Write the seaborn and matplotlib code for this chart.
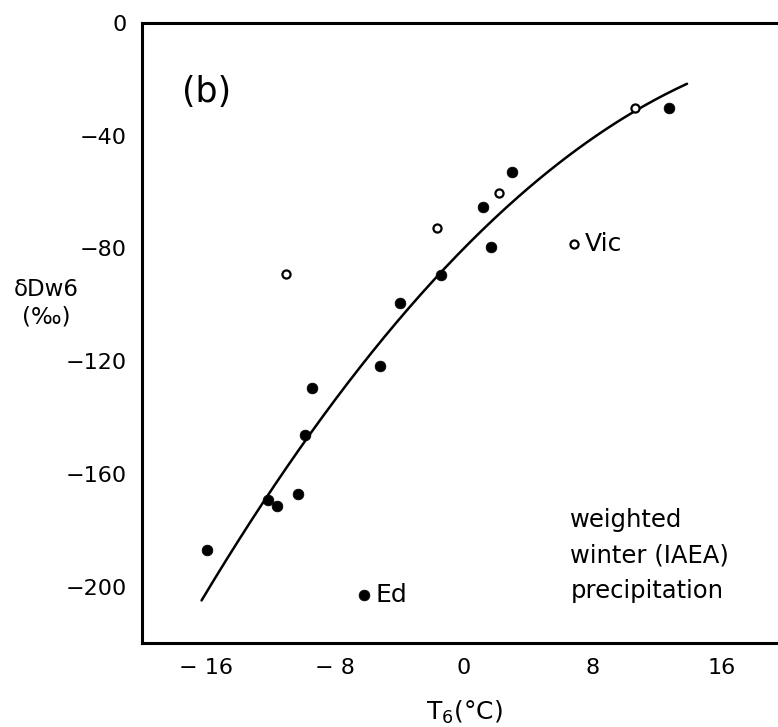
import numpy as np
import pandas as pd
import matplotlib
matplotlib.use("Agg")
import matplotlib.pyplot as plt
import seaborn as sns

# Station temperature T6 (°C) and weighted winter deltaD (per mil)
filled_t = [-15.95, -12.2, -11.6, -10.3, -9.9, -9.45, -6.2, -5.2, -4.0, -1.4, 1.2, 1.7, 3.0, 12.7]
filled_d = [-187.0, -169.3, -171.4, -167.0, -146.3, -129.4, -203.0, -121.6, -99.3, -89.4, -65.4, -79.6, -52.7, -30.0]
open_t = [-11.05, -1.7, 2.2, 6.8, 10.6]
open_d = [-89.0, -72.8, -60.4, -78.4, -30.0]

# Quadratic fit drawn through the data: dD = a + b*T + c*T^2
fit_a, fit_b, fit_c = -79.9, 5.80, -0.1146
fit_range = (-16.3, 13.85)

# Station labels
station_names = ["Vic", "Ed"]
station_t = [6.8, -6.2]
station_d = [-78.4, -203.0]

x_ticks = [-16, -8, 0, 8, 16]
y_ticks = [0, -40, -80, -120, -160, -200]

sns.set_style("white")
plt.rcParams["font.family"] = ["DejaVu Sans"]
plt.rcParams["text.color"] = "black"

fig = plt.figure(figsize=(7.78, 7.27), dpi=100)
ax = fig.add_axes([0.1825, 0.1155, 0.8175, 0.8528])

closed = pd.DataFrame({"T": filled_t, "dD": filled_d})
hollow = pd.DataFrame({"T": open_t, "dD": open_d})

tt = np.linspace(fit_range[0], fit_range[1], 200)
curve = pd.DataFrame({"T": tt, "dD": fit_a + fit_b * tt + fit_c * tt ** 2})
sns.lineplot(data=curve, x="T", y="dD", ax=ax, color="black", linewidth=1.8, sort=False)

sns.scatterplot(data=closed, x="T", y="dD", ax=ax, s=60, color="black",
                edgecolor="black", linewidth=0.5, zorder=3)
sns.scatterplot(data=hollow, x="T", y="dD", ax=ax, s=34, facecolor="white",
                edgecolor="black", linewidth=1.6, zorder=3)

for name, t, d in zip(station_names, station_t, station_d):
    ax.text(t + 0.7, d, name, fontsize=18, va="center", ha="left", color="black")

ax.text(6.6, -189, "weighted\nwinter (IAEA)\nprecipitation", fontsize=17.5,
        ha="left", va="center", linespacing=1.62, color="black")
ax.text(-17.5, -24.4, "(b)", fontsize=25, ha="left", va="center", color="black")

ax.set_xlim(-20, 19.5)
ax.set_ylim(-220, 0)
ax.set_xticks(x_ticks)
ax.set_xticks(np.arange(-20, 20, 4), minor=True)
ax.set_yticks(y_ticks)
ax.set_yticks(np.arange(-220, 1, 20), minor=True)
ax.tick_params(axis="both", which="both", direction="in", length=6, width=1.8,
               labelsize=16, colors="black")
ax.tick_params(axis="x", which="major", pad=11)
ax.tick_params(axis="y", which="major", pad=11)
ax.set_xticklabels([str(v).replace("-", "\u2212 ") if v < 0 else str(v) for v in x_ticks])

for side in ["left", "bottom", "top"]:
    ax.spines[side].set_linewidth(2.2)
    ax.spines[side].set_color("black")
ax.spines["right"].set_visible(False)

ax.set_xlabel("")
ax.set_ylabel("")
fig.text(0.059, 0.583, "δDw6\n(‰)", fontsize=16.5, ha="center", va="center",
         linespacing=1.25, color="black")
fig.text(464 / 778, 1 - 712 / 727, "T$_6$(°C)", fontsize=18, ha="center", va="center",
         color="black")

fig.savefig("out.png", dpi=100)
